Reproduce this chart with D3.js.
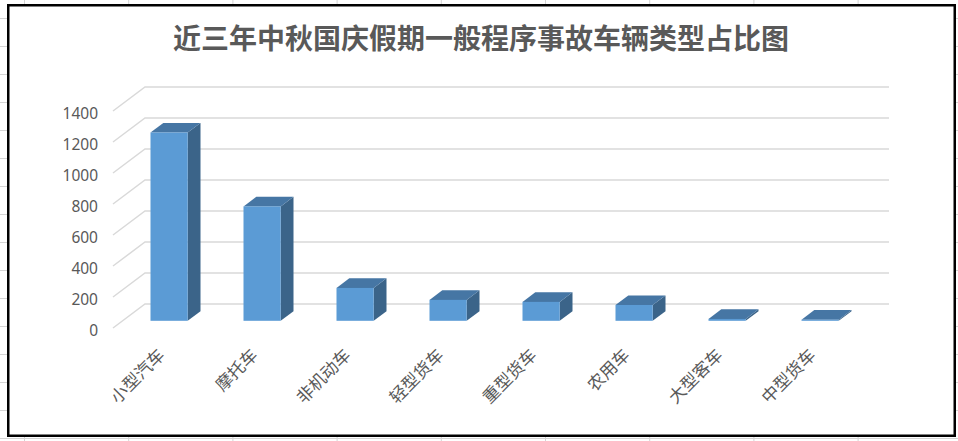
<!DOCTYPE html>
<html>
<head>
<meta charset="utf-8">
<script src="https://cdn.jsdelivr.net/npm/d3@7"></script>
<style>
  html, body { margin: 0; padding: 0; background: #fff; overflow: hidden; }
</style>
</head>
<body>
<div id="chart"></div>
<script>
// chart data
let categories = ["小型汽车", "摩托车", "非机动车", "轻型货车", "重型货车", "农用车", "大型客车", "中型货车"];
let counts = [1215, 738, 212, 135, 122, 102, 12, 7];
let yTicks = [0, 200, 400, 600, 800, 1000, 1200, 1400];
let title = "近三年中秋国庆假期一般程序事故车辆类型占比图";

let width = 958;
let height = 441;

// 3d depth of the floor (pixels for a full depth step)
let depthX = 32;
let depthY = 24;
let barZ0 = 0.3, barZ1 = 0.7;

let svg = d3.select("#chart")
  .append("svg")
  .attr("width", width)
  .attr("height", height)
  .style("font-family", "'Noto Sans CJK SC', 'Noto Sans', sans-serif");

// spreadsheet cells behind the chart
let sheet = svg.append("g").attr("id", "sheet");
sheet.selectAll("line.h")
  .data(d3.range(0, 16))
  .enter()
  .append("line")
  .attr("x1", 0).attr("x2", width)
  .attr("y1", d => 18 + d * 28 + 0.5)
  .attr("y2", d => 18 + d * 28 + 0.5)
  .style("stroke", "#d4d4d4")
  .style("stroke-width", 1);
sheet.selectAll("line.v")
  .data(d3.range(0, 10))
  .enter()
  .append("line")
  .attr("y1", 0).attr("y2", height)
  .attr("x1", d => 24 + d * 104.2 + 0.5)
  .attr("x2", d => 24 + d * 104.2 + 0.5)
  .style("stroke", "#d4d4d4")
  .style("stroke-width", 1);

// chart area box
svg.append("rect")
  .attr("x", 8.25)
  .attr("y", 5.25)
  .attr("width", 946.5)
  .attr("height", 430.5)
  .style("fill", "white")
  .style("stroke", "black")
  .style("stroke-width", 2.5);

svg.append("text")
  .attr("x", 481)
  .attr("y", 49)
  .attr("text-anchor", "middle")
  .style("font-size", "28px")
  .style("font-weight", "bold")
  .style("fill", "#595959")
  .text(title);

// scales (front plane)
let x = d3.scaleBand()
  .domain(categories)
  .range([113, 857])
  .paddingInner(0.6)
  .paddingOuter(0.3);

let y = d3.scaleLinear()
  .domain([0, 1400])
  .range([328, 111]);

// gridlines: diagonal on the side wall + horizontal on the back wall
let grid = svg.append("g").attr("id", "grid");
grid.selectAll("path")
  .data(yTicks)
  .enter()
  .append("path")
  .attr("d", d => "M113," + y(d) + "L" + (113 + depthX) + "," + (y(d) - depthY) + "L" + (857 + depthX) + "," + (y(d) - depthY))
  .style("fill", "none")
  .style("stroke", "#d9d9d9")
  .style("stroke-width", 1.5);

// y axis labels
let yAxis = svg.append("g")
  .attr("transform", "translate(98,2.5)")
  .call(d3.axisLeft(y).tickValues(yTicks).tickFormat(d3.format("d")).tickSize(0).tickPadding(0));
yAxis.select(".domain").remove();
yAxis.selectAll("text")
  .style("font-family", "'Noto Sans', sans-serif")
  .style("font-size", "15.5px")
  .style("fill", "#595959");

// bars
function pt(px, py, z) {
  return [px + z * depthX, py - z * depthY];
}

let bars = svg.append("g").attr("id", "bars")
  .selectAll("g")
  .data(categories.map((c, i) => ({name: c, value: counts[i]})))
  .enter()
  .append("g");

// side face
bars.append("path")
  .attr("d", d => {
    let xr = x(d.name) + x.bandwidth();
    let a = pt(xr, y(0), barZ0), b = pt(xr, y(0), barZ1), c = pt(xr, y(d.value), barZ1), e = pt(xr, y(d.value), barZ0);
    return "M" + [a, b, c, e].join("L") + "Z";
  })
  .style("fill", "#3b6489");

// top face
bars.append("path")
  .attr("d", d => {
    let xl = x(d.name), xr = xl + x.bandwidth(), yt = y(d.value);
    let a = pt(xl, yt, barZ0), b = pt(xr, yt, barZ0), c = pt(xr, yt, barZ1), e = pt(xl, yt, barZ1);
    return "M" + [a, b, c, e].join("L") + "Z";
  })
  .style("fill", "#4676a4");

// front face
bars.append("rect")
  .attr("x", d => x(d.name) + barZ0 * depthX)
  .attr("y", d => y(d.value) - barZ0 * depthY)
  .attr("width", x.bandwidth())
  .attr("height", d => y(0) - y(d.value))
  .style("fill", "#5b9bd5");

// category labels
svg.append("g")
  .selectAll("text")
  .data(categories)
  .enter()
  .append("text")
  .attr("transform", d => "translate(" + (x(d) + x.bandwidth() / 2 + 1) + ",351) rotate(-45)")
  .attr("text-anchor", "end")
  .attr("dominant-baseline", "central")
  .style("font-size", "17px")
  .style("fill", "#595959")
  .text(d => d);
</script>
</body>
</html>
